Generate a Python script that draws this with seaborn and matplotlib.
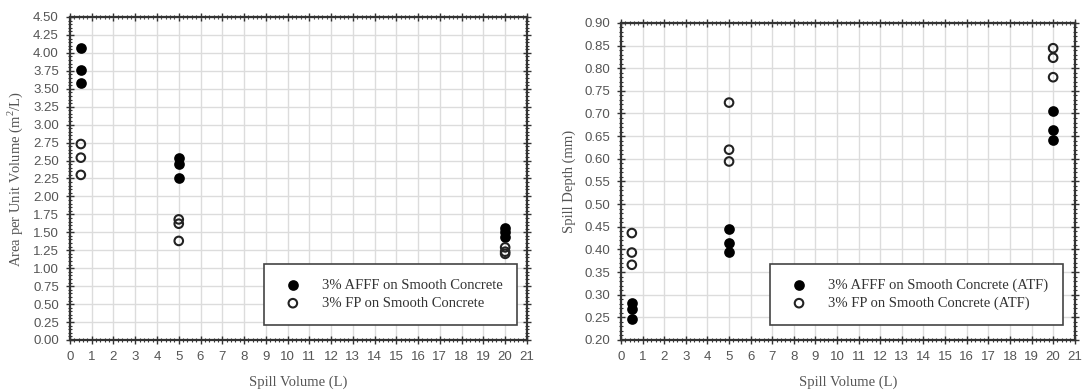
import numpy as np
import pandas as pd
import matplotlib
matplotlib.use("Agg")
import matplotlib.pyplot as plt
import seaborn as sns
from matplotlib.ticker import MultipleLocator, FormatStrFormatter

# ---------------- data ----------------
spill_volumes = [0.5, 0.5, 0.5, 5, 5, 5, 20, 20, 20]

left_afff = [4.07, 3.76, 3.58, 2.53, 2.45, 2.26, 1.56, 1.50, 1.44]
left_fp = [2.73, 2.54, 2.30, 1.68, 1.62, 1.38, 1.29, 1.23, 1.20]

right_afff = [0.282, 0.269, 0.247, 0.445, 0.413, 0.395, 0.705, 0.664, 0.642]
right_fp = [0.436, 0.393, 0.366, 0.724, 0.620, 0.594, 0.844, 0.823, 0.780]

left_labels = ["3% AFFF on Smooth Concrete", "3% FP on Smooth Concrete"]
right_labels = ["3% AFFF on Smooth Concrete (ATF)", "3% FP on Smooth Concrete (ATF)"]

x_label = "Spill Volume (L)"
left_ylabel = "Area per Unit Volume (m$^2$/L)"
right_ylabel = "Spill Depth (mm)"

# ---------------- style ----------------
sns.set_theme(style="white")
plt.rcParams["font.family"] = ["Liberation Sans", "DejaVu Sans"]
plt.rcParams["mathtext.fontset"] = "custom"
plt.rcParams["mathtext.rm"] = "Liberation Serif"

fig = plt.figure(figsize=(10.88, 3.92), dpi=100)
ax1 = fig.add_axes([0.0643, 0.1327, 0.420, 0.824])
ax2 = fig.add_axes([0.5708, 0.1327, 0.417, 0.809])

tick_gray = "#555555"
serif = ["Liberation Serif", "DejaVu Serif"]


def draw(ax, afff, fp, labels, ylabel, ylim, ymajor, yminor, yfmt, legend_anchor):
    df = pd.DataFrame({
        "x": spill_volumes + spill_volumes,
        "y": afff + fp,
        "series": [labels[0]] * len(afff) + [labels[1]] * len(fp),
    })
    sns.scatterplot(data=df[df.series == labels[0]], x="x", y="y", ax=ax,
                    color="black", marker="o", s=42, edgecolor="black",
                    linewidth=1.2, label=labels[0], zorder=4)
    sns.scatterplot(data=df[df.series == labels[1]], x="x", y="y", ax=ax,
                    marker="o", s=38, facecolor="none", edgecolor="#222222",
                    linewidth=1.5, label=labels[1], zorder=4)
    ax.set_xlim(0, 21)
    ax.set_ylim(*ylim)
    ax.xaxis.set_major_locator(MultipleLocator(1))
    ax.xaxis.set_minor_locator(MultipleLocator(0.2))
    ax.yaxis.set_major_locator(MultipleLocator(ymajor))
    ax.yaxis.set_minor_locator(MultipleLocator(yminor))
    ax.yaxis.set_major_formatter(FormatStrFormatter(yfmt))
    ax.grid(True, which="major", color="#dcdcdc", linewidth=1.0, zorder=0)
    ax.set_axisbelow(True)
    for sp in ax.spines.values():
        sp.set_visible(True)
        sp.set_color("#333333")
        sp.set_linewidth(1.6)
    ax.tick_params(which="both", direction="inout", top=True, right=True,
                   bottom=True, left=True, color="#333333")
    ax.tick_params(which="major", length=6, width=1.0, labelsize=9.5,
                   labelcolor=tick_gray, pad=5)
    ax.tick_params(which="minor", length=3.5, width=0.8)
    ax.set_xlabel(x_label, family=serif, fontsize=10.5, color=tick_gray, labelpad=9)
    ax.set_ylabel(ylabel, family=serif, fontsize=10.5, color=tick_gray, labelpad=6)
    leg = ax.legend(loc="lower right", bbox_to_anchor=legend_anchor, frameon=True,
                    fancybox=False, edgecolor="#444444", framealpha=1,
                    prop={"family": serif, "size": 10.5}, borderpad=1.0,
                    handletextpad=1.0, labelspacing=0.35, borderaxespad=0.5)
    leg.get_frame().set_linewidth(1.2)
    for t in leg.get_texts():
        t.set_color("#333333")


draw(ax1, left_afff, left_fp, left_labels, left_ylabel, (0, 4.5), 0.25, 0.05,
     "%.2f", (0.995, 0.025))
draw(ax2, right_afff, right_fp, right_labels, right_ylabel, (0.2, 0.9), 0.05, 0.01,
     "%.2f", (0.99, 0.025))

fig.savefig("out.png", dpi=100)
